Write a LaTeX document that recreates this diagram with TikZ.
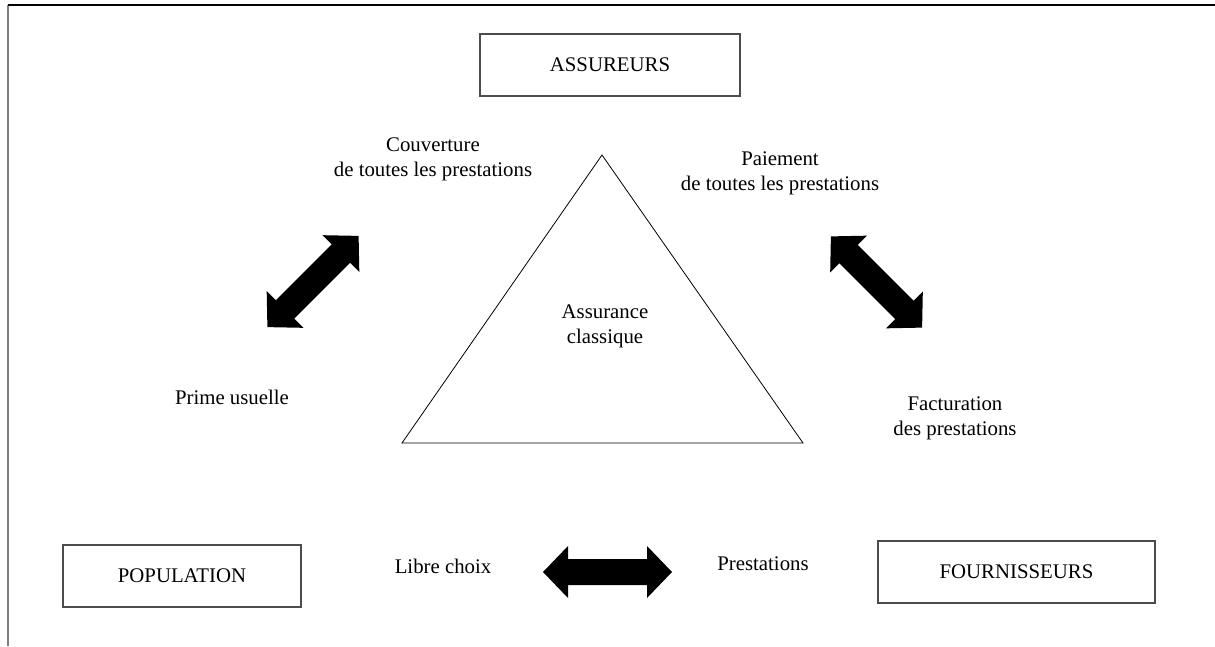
\documentclass[tikz,border=0pt]{standalone}
\usepackage{fontspec}
\setmainfont{Liberation Serif}
\begin{document}
\begin{tikzpicture}[x=1pt, y=-1pt,
  every node/.style={font=\fontsize{20.8}{25}\selectfont, inner sep=0pt},
  label/.style={align=center},
  actor/.style={draw=black!70, line width=1.2pt, minimum height=62pt},
  dblarrow/.pic={
    \fill[black] (-64.5,0) -- (-39.5,26) -- (-39.5,13) -- (39.5,13) -- (39.5,26)
      -- (64.5,0) -- (39.5,-26) -- (39.5,-13) -- (-39.5,-13) -- (-39.5,-26) -- cycle;
  }]
  \useasboundingbox (0,0) rectangle (1215,646);

  % page frame: top rule and left rule
  \coordinate (frameTL) at (8,5);
  \coordinate (frameTR) at (1215,5);
  \coordinate (frameBL) at (8,646);
  \draw[gray, line width=2pt] (frameTL) -- (frameBL);
  \draw[black, line width=1.5pt] (frameTL) -- (frameTR);

  % the three actors
  \node[actor, minimum width=260pt] (assureurs) at (610,65) {ASSUREURS};
  \node[actor, minimum width=238pt] (population) at (182,576) {POPULATION};
  \node[actor, minimum width=277pt] (fournisseurs) at (1016.5,572) {FOURNISSEURS};

  % central triangle
  \coordinate (apex) at (602,155);
  \coordinate (baseL) at (402,443);
  \coordinate (baseR) at (803,443);
  \draw[black, line width=0.8pt, line join=miter] (apex) -- (baseL) -- (baseR) -- cycle;
  \node[label] (classique) at (605,326) {Assurance\\classique};

  % relation labels
  \node[label] (couverture) at (433,159.5) {Couverture\\de toutes les prestations};
  \node[label] (paiement) at (780,173.5) {Paiement\\de toutes les prestations};
  \node[label] (prime) at (232,397) {Prime usuelle};
  \node[label] (facturation) at (955,418) {Facturation\\des prestations};
  \node[label] (choix) at (443,566) {Libre choix};
  \node[label] (prestations) at (763,564) {Prestations};

  % block double arrows
  \pic[rotate=45] (arrowLeft) at (313,281.5) {dblarrow};
  \pic[rotate=-45] (arrowRight) at (876.5,282) {dblarrow};
  \pic (arrowBottom) at (607.5,572) {dblarrow};
\end{tikzpicture}
\end{document}
